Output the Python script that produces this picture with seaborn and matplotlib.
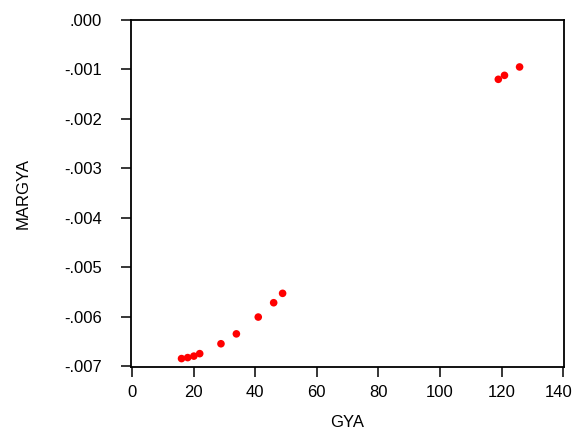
import numpy as np
import pandas as pd
import seaborn as sns
import matplotlib.pyplot as plt
import matplotlib.transforms as mtrans
from matplotlib.ticker import FuncFormatter

# values
gya = [16.1, 18.1, 20.1, 22.0, 28.9, 33.9, 41.0, 46.0, 48.9, 118.9, 120.9, 125.8]
margya = [-0.00685, -0.00683, -0.00680, -0.00675, -0.00655, -0.00635,
          -0.00601, -0.00572, -0.00553, -0.00120, -0.00112, -0.00095]

x_ticks = [0, 20, 40, 60, 80, 100, 120, 140]
y_ticks = [0.0, -0.001, -0.002, -0.003, -0.004, -0.005, -0.006, -0.007]

df = pd.DataFrame({'GYA': gya, 'MARGYA': margya})

sns.set_theme(style="ticks")
plt.rcParams['font.family'] = ['Liberation Sans', 'DejaVu Sans']

fig = plt.figure(figsize=(5.76, 4.32), dpi=100)
ax = fig.add_axes([0.2274, 0.1505, 0.7517, 0.8032])

sns.scatterplot(data=df, x='GYA', y='MARGYA', color='red', s=30,
                edgecolor='none', ax=ax)

ax.set_xlim(-0.3, 140.2)
ax.set_ylim(-0.00702, 0.0)
ax.set_xticks(x_ticks)
ax.set_yticks(y_ticks)


def fmt_y(v, pos):
    s = f"{v:.3f}"
    if s.startswith('-0'):
        return '-' + s[2:]
    if s.startswith('0'):
        return s[1:]
    return s


ax.yaxis.set_major_formatter(FuncFormatter(fmt_y))

for side in ['top', 'right', 'left', 'bottom']:
    ax.spines[side].set_visible(True)
    ax.spines[side].set_color('black')
    ax.spines[side].set_linewidth(1.3)

ax.tick_params(axis='both', direction='out', length=7, width=1.1,
               colors='black', labelsize=12)
ax.tick_params(axis='y', pad=14)
ax.tick_params(axis='x', pad=6)

# pull the last x label in a little so it stays inside the figure
last = ax.get_xticklabels()[-1]
last.set_transform(last.get_transform() +
                   mtrans.ScaledTranslation(-5 / 100, 0, fig.dpi_scale_trans))

ax.set_xlabel('GYA', fontsize=12, labelpad=11, color='black')
ax.set_ylabel('MARGYA', fontsize=12, labelpad=24, color='black')

fig.savefig('out.png', dpi=100)
